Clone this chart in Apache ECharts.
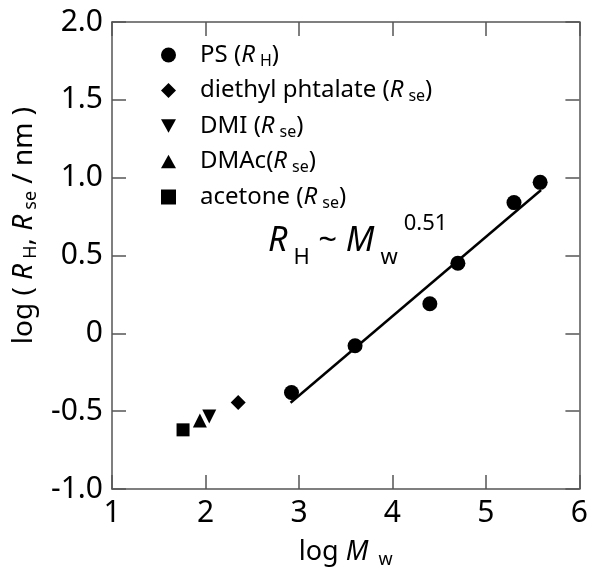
<!DOCTYPE html>
<html>
<head>
<meta charset="utf-8">
<script src="https://cdn.jsdelivr.net/npm/echarts@6/dist/echarts.min.js"></script>
<style>
	html, body { margin: 0; padding: 0; background: #fff; }
	#P1 { width: 591px; height: 574px; }
</style>
</head>
<body>
<div id="P1"></div>
<script>
// 数据 (log Mw, log R)
var psData = [[2.92, -0.38], [3.60, -0.08], [4.40, 0.19], [4.70, 0.45], [5.30, 0.84], [5.58, 0.97]];
var diethylData = [[2.35, -0.445]];
var dmiData = [[2.04, -0.535]];
var dmacData = [[1.94, -0.56]];
var acetoneData = [[1.76, -0.62]];
var fitData = [[2.91, -0.446], [5.59, 0.921]];
var xTicks = [1, 2, 3, 4, 5, 6];
var yTicks = [-1.0, -0.5, 0, 0.5, 1.0, 1.5, 2.0];

var seriesNames = ['PS', 'diethyl phtalate', 'DMI', 'DMAc', 'acetone'];
var legendText = {
	'PS': 'PS ({i|R}{s|H})',
	'diethyl phtalate': 'diethyl phtalate ({i|R}{s|se})',
	'DMI': 'DMI ({i|R}{s|se})',
	'DMAc': 'DMAc({i|R}{s|se})',
	'acetone': 'acetone ({i|R}{s|se})'
};
var downTri = 'path://M0,0 L10,0 L5,9 Z';
var upTri = 'path://M5,0 L10,9 L0,9 Z';

function echartsP1() {
	var myChart = echarts.init(document.getElementById('P1'));
	var font = 'Noto Sans';
	var axisColor = '#555';
	var baseAxis = {
		axisLine: { show: true, onZero: false, lineStyle: { color: axisColor, width: 1.5 } },
		axisTick: { show: true, inside: true, length: 14, lineStyle: { color: axisColor, width: 1.5 } },
		splitLine: { show: false }
	};
	var option = {
		backgroundColor: '#fff',
		animation: false,
		grid: { left: 112, right: 9, top: 22, bottom: 80 },
		legend: {
			orient: 'vertical',
			left: 156,
			top: 38,
			itemWidth: 15,
			itemHeight: 15,
			itemGap: 9.5,
			data: [
				{ name: 'PS', icon: 'circle' },
				{ name: 'diethyl phtalate', icon: 'diamond' },
				{ name: 'DMI', icon: downTri },
				{ name: 'DMAc', icon: upTri },
				{ name: 'acetone', icon: 'rect' }
			],
			formatter: function(name) {
				return legendText[name];
			},
			textStyle: {
				color: '#000',
				fontFamily: font,
				fontSize: 24,
				padding: [0, 0, 0, 19],
				rich: {
					i: { fontStyle: 'italic', fontSize: 24, fontFamily: font, color: '#000' },
					s: { fontSize: 16, fontFamily: font, color: '#000', padding: [12, 0, 0, 5] }
				}
			}
		},
		xAxis: [Object.assign({
			type: 'value',
			min: 1, max: 6, interval: 1,
			name: 'log {i|M}{s|w}',
			nameLocation: 'middle',
			nameGap: 46,
			nameTextStyle: {
				color: '#000', fontFamily: font, fontSize: 27,
				rich: {
					i: { fontStyle: 'italic', fontSize: 27, fontFamily: font, color: '#000' },
					s: { fontSize: 18, fontFamily: font, color: '#000', padding: [16, 0, 0, 10] }
				}
			},
			axisLabel: {
				color: '#000', fontFamily: font, fontSize: 30, margin: 9,
				formatter: function(v) { return xTicks.indexOf(v) >= 0 ? String(v) : ''; }
			}
		}, baseAxis), Object.assign({
			type: 'value', position: 'top',
			min: 1, max: 6, interval: 1,
			axisLabel: { show: false }
		}, baseAxis)],
		yAxis: [Object.assign({
			type: 'value',
			min: -1, max: 2, interval: 0.5,
			name: 'log ( {i|R}{s|H}, {i|R}{s|se} / nm )',
			nameLocation: 'middle',
			nameGap: 68,
			nameTextStyle: {
				color: '#000', fontFamily: font, fontSize: 28, padding: [0, 0, 0, 60],
				rich: {
					i: { fontStyle: 'italic', fontSize: 28, fontFamily: font, color: '#000' },
					s: { fontSize: 18, fontFamily: font, color: '#000', padding: [14, 0, 0, 5] }
				}
			},
			axisLabel: {
				color: '#000', fontFamily: font, fontSize: 30, margin: 9,
				formatter: function(v) { return v === 0 ? '0' : v.toFixed(1); }
			}
		}, baseAxis), Object.assign({
			type: 'value', position: 'right',
			min: -1, max: 2, interval: 0.5,
			axisLabel: { show: false }
		}, baseAxis)],
		graphic: [{
			type: 'text',
			x: 268,
			y: 241,
			style: {
				text: '{i|R}{s|H} ~ {i|M}{s|w}{p|0.51}',
				verticalAlign: 'middle',
				fill: '#000',
				font: '33px "Noto Sans"',
				rich: {
					i: { fontStyle: 'italic', fontSize: 34, fontFamily: font, fill: '#000' },
					s: { fontSize: 22, fontFamily: font, fill: '#000', padding: [34, 0, 0, 6] },
					p: { fontSize: 22, fontFamily: font, fill: '#000', padding: [0, 0, 34, 6] }
				}
			}
		}],
		series: [{
			name: 'fit',
			type: 'line',
			data: fitData,
			showSymbol: false,
			symbol: 'none',
			lineStyle: { color: '#000', width: 2.5 },
			z: 1
		}, {
			name: 'PS',
			type: 'scatter',
			data: psData,
			symbol: 'circle',
			symbolSize: 15,
			itemStyle: { color: '#000', opacity: 1 },
			z: 3
		}, {
			name: 'diethyl phtalate',
			type: 'scatter',
			data: diethylData,
			symbol: 'diamond',
			symbolSize: 15,
			itemStyle: { color: '#000', opacity: 1 }
		}, {
			name: 'DMI',
			type: 'scatter',
			data: dmiData,
			symbol: downTri,
			symbolSize: 14,
			itemStyle: { color: '#000', opacity: 1 }
		}, {
			name: 'DMAc',
			type: 'scatter',
			data: dmacData,
			symbol: upTri,
			symbolSize: 14,
			itemStyle: { color: '#000', opacity: 1 }
		}, {
			name: 'acetone',
			type: 'scatter',
			data: acetoneData,
			symbol: 'rect',
			symbolSize: 13,
			itemStyle: { color: '#000', opacity: 1 }
		}]
	};
	myChart.setOption(option);
}
echartsP1();
</script>
</body>
</html>
